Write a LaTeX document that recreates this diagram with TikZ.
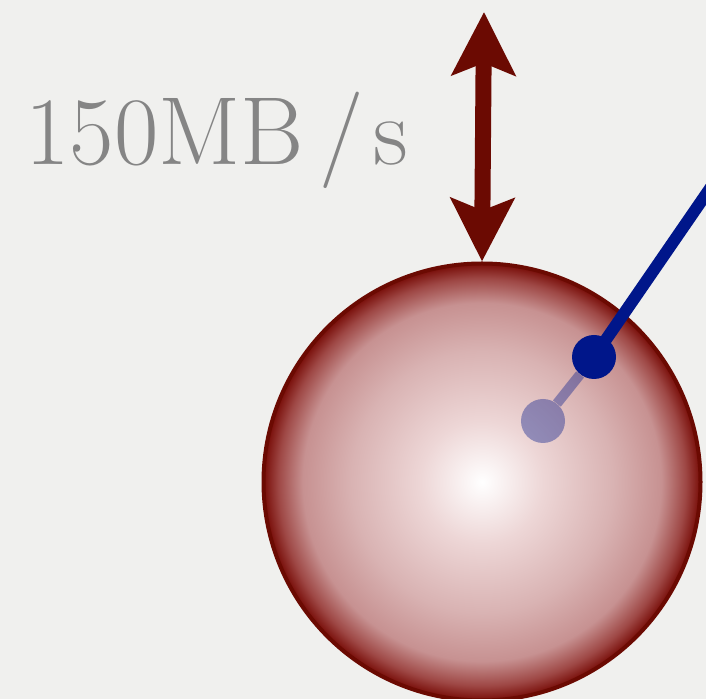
\documentclass[tikz,border=0pt]{standalone}
\usepackage{tikz}
\usetikzlibrary{arrows.meta}

\definecolor{bgpaper}{HTML}{F0F0EE}
\definecolor{darkrust}{HTML}{6B0A02}
\definecolor{labelgray}{HTML}{858585}
\definecolor{seekblue}{HTML}{00168A}

\pgfdeclareradialshading{platter}{\pgfpoint{0bp}{0bp}}{%
  color(0bp)=(white);
  color(7bp)=(rgb,1:red,0.93;green,0.84;blue,0.84);
  color(15bp)=(rgb,1:red,0.85;green,0.70;blue,0.70);
  color(20.5bp)=(rgb,1:red,0.78;green,0.57;blue,0.57);
  color(23.3bp)=(rgb,1:red,0.62;green,0.28;blue,0.27);
  color(25bp)=(rgb,1:red,0.47;green,0.05;blue,0.03);
  color(50bp)=(rgb,1:red,0.47;green,0.05;blue,0.03)}

\tikzset{
  disk/.style={circle,minimum size=8.74cm,inner sep=0pt,shading=platter,
    draw=darkrust,line width=0.08cm},
  bandwidth/.style={draw=darkrust,line width=0.32cm,
    {Stealth[length=1.26cm,width=1.26cm,inset=0.24cm]}-{Stealth[length=1.26cm,width=1.26cm,inset=0.24cm]}},
  head/.style={circle,fill=seekblue,minimum size=0.88cm,inner sep=0pt},
  ghost/.style={circle,fill=seekblue,fill opacity=0.38,minimum size=0.88cm,inner sep=0pt},
}

\begin{document}
\begin{tikzpicture}
  \fill[bgpaper] (0,0) rectangle (14.12,13.98);
  \useasboundingbox (0,0) rectangle (14.12,13.98);

  % the disk
  \node[disk] (sphere) at (9.64,4.34) {};

  % transfer rate
  \coordinate (top) at (9.68,13.74);
  \draw[bandwidth] (top) -- (sphere.north);
  \node[anchor=base west,inner sep=0pt,text=labelgray,font=\fontsize{55}{60}\selectfont]
    (rate) at (0.50,10.68) {150MB\,/\kern0.1em s};

  % read head
  \node[ghost] (old) at (10.86,5.56) {};
  \node[head] (arm) at (11.88,6.84) {};
  \coordinate (pivot) at (14.40,10.50);
  \draw[seekblue,line width=0.2cm,opacity=0.38] (old) -- (arm);
  \draw[seekblue,line width=0.24cm] (arm.center) -- (pivot);
\end{tikzpicture}
\end{document}
